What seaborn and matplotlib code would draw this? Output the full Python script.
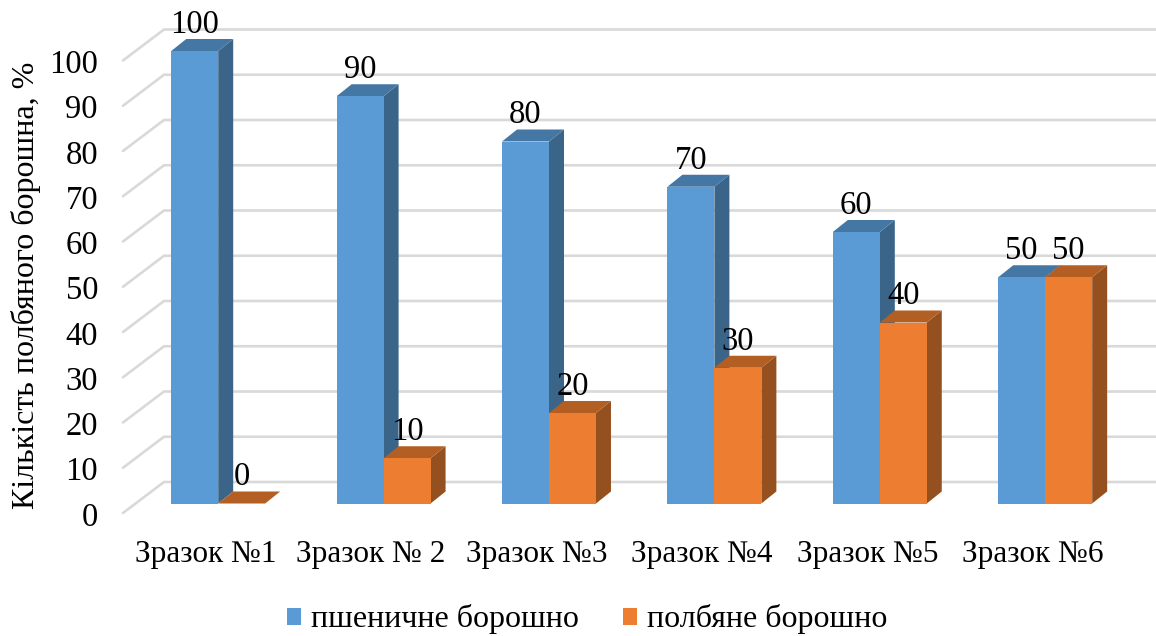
import matplotlib
matplotlib.use("Agg")
import matplotlib.pyplot as plt
from matplotlib.patches import Polygon
from matplotlib.transforms import ScaledTranslation
import pandas as pd
import seaborn as sns

samples = ["Зразок №1", "Зразок № 2", "Зразок №3", "Зразок №4", "Зразок №5", "Зразок №6"]
wheat = [100, 90, 80, 70, 60, 50]
spelt = [0, 10, 20, 30, 40, 50]
series_names = ["пшеничне борошно", "полбяне борошно"]
y_ticks = list(range(0, 101, 10))
y_title = "Кількість полбяного борошна, %"

FRONT = ["#5B9BD5", "#ED7D31"]
SIDE = ["#3A6589", "#95501F"]
TOP = ["#4577A4", "#B35F24"]
GRID = "#D9D9D9"
FONT_SIZE = 23.5

W, H, DPI = 1156, 636, 100
LEFT_PX, BASE_PX = 135.5, 503.5
PX_PER_CAT, PX_PER_VAL = 165.4, 4.525

sns.set_theme(style="white")
plt.rcParams["font.family"] = ["Liberation Serif", "DejaVu Serif"]

df = pd.DataFrame({
    "sample": samples * 2,
    "share": wheat + spelt,
    "flour": [series_names[0]] * len(samples) + [series_names[1]] * len(samples),
})

fig = plt.figure(figsize=(W / DPI, H / DPI), dpi=DPI, facecolor="white")
ax = fig.add_axes([LEFT_PX / W, 1 - BASE_PX / H, (W - LEFT_PX) / W, BASE_PX / H])
ax.patch.set_alpha(0)

sns.barplot(data=df, x="sample", y="share", hue="flour", hue_order=series_names,
            palette=FRONT, saturation=1, width=0.568, gap=0, ax=ax, zorder=3,
            linewidth=0)
ax.set_xlim(-0.5, (W - LEFT_PX) / PX_PER_CAT - 0.5)
ax.set_ylim(0, BASE_PX / PX_PER_VAL)


def dx(px):
    return px / PX_PER_CAT


def dy(px):
    return px / PX_PER_VAL


# Floor and back wall grid of the pseudo-3D frame
for v in y_ticks:
    ax.plot([-0.5 + dx(-12.5), -0.5 + dx(28.5), ax.get_xlim()[1]],
            [v + dy(-9.5), v + dy(21.5), v + dy(21.5)],
            color=GRID, lw=1.9, clip_on=False, zorder=1, solid_joinstyle="round")

# Extruded top and side faces of each bar
DEPTH_X, DEPTH_Y = dx(15), dy(12)
for k, container in enumerate(ax.containers):
    for patch in container.patches:
        patch.set_zorder(3 + 2 * k)
        x0, w, h = patch.get_x(), patch.get_width(), patch.get_height()
        x1 = x0 + w
        side = Polygon([(x1, 0), (x1 + DEPTH_X, DEPTH_Y), (x1 + DEPTH_X, h + DEPTH_Y), (x1, h)],
                       closed=True, fc=SIDE[k], ec="none", zorder=2 + 2 * k)
        top = Polygon([(x0, h), (x0 + DEPTH_X, h + DEPTH_Y), (x1 + DEPTH_X, h + DEPTH_Y), (x1, h)],
                      closed=True, fc=TOP[k], ec="none", zorder=2 + 2 * k)
        ax.add_patch(side)
        ax.add_patch(top)
    ax.bar_label(container, labels=[str(int(p.get_height())) for p in container.patches],
                 padding=8, fontsize=FONT_SIZE, color="black", zorder=10)

sns.despine(ax=ax, left=True, bottom=True, top=True, right=True)
ax.set_xlabel("")
ax.set_ylabel("")
ax.set_yticks(y_ticks)
ax.set_yticklabels([str(v) for v in y_ticks], fontsize=FONT_SIZE, color="black")
ax.tick_params(axis="y", length=0, pad=27)
ax.tick_params(axis="x", length=0, pad=26, labelsize=22.5, labelcolor="black")

# Tick labels sit on the front edge of the floor, not on the bar plane
y_shift = ScaledTranslation(0, -10.5 / DPI, fig.dpi_scale_trans)
x_shift = ScaledTranslation(-12.5 / DPI, 0, fig.dpi_scale_trans)
for label in ax.get_yticklabels():
    label.set_transform(label.get_transform() + y_shift)
for label in ax.get_xticklabels():
    label.set_transform(label.get_transform() + x_shift)

fig.text(26.5 / W, 1 - 285 / H, y_title, rotation=90, ha="center", va="center",
         fontsize=23, color="black")

handles, labels = ax.get_legend_handles_labels()
ax.legend(handles, labels, loc="center", bbox_to_anchor=(587 / W, 1 - 619.5 / H),
          bbox_transform=fig.transFigure, ncol=2, frameon=False, fontsize=23,
          handlelength=0.44, handleheight=0.44, handletextpad=0.31, columnspacing=1.37,
          labelcolor="black", borderpad=0, borderaxespad=0)

fig.savefig("out.png", dpi=DPI, facecolor="white")
